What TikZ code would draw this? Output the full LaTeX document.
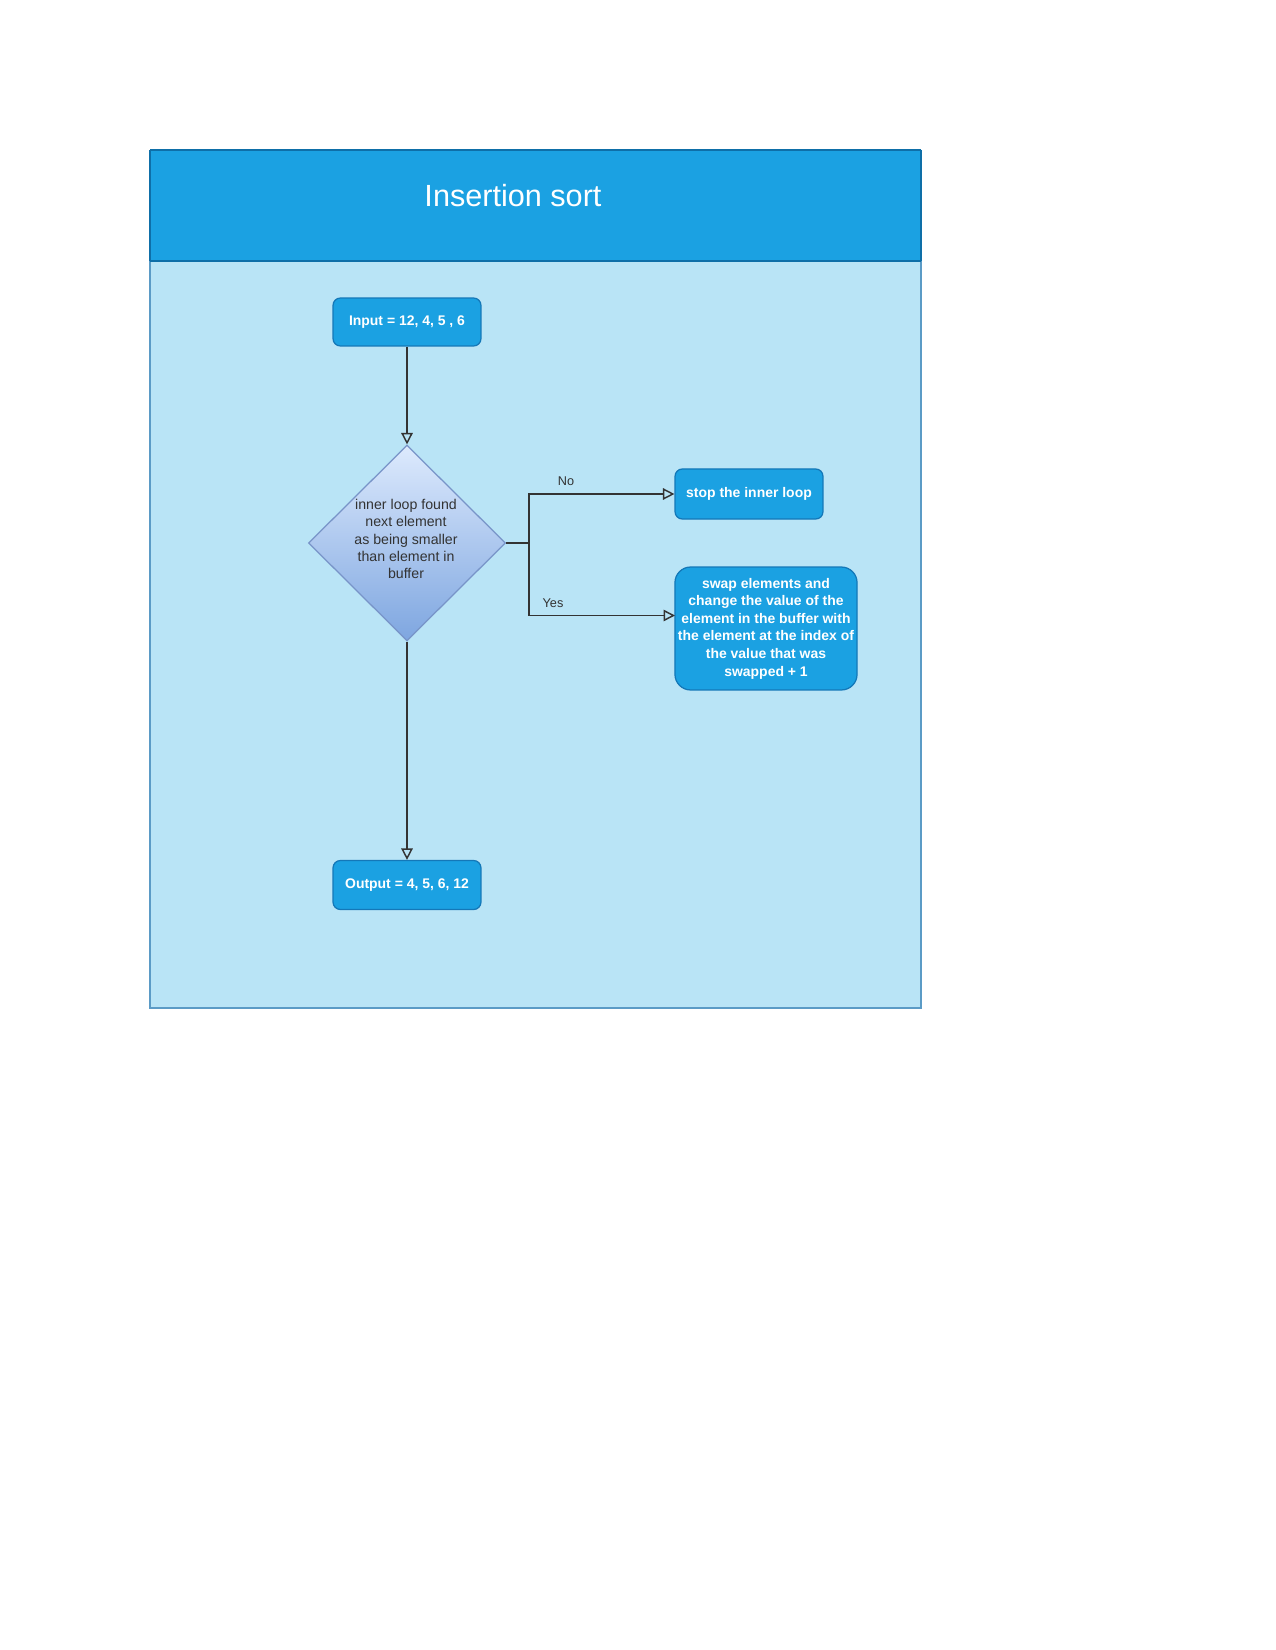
\documentclass[tikz,border=0pt]{standalone}
\usepackage{fontspec}
\setmainfont{Liberation Sans}
\usetikzlibrary{arrows.meta,shapes.geometric}
\definecolor{hdr}{HTML}{1BA1E2}
\definecolor{hdrline}{HTML}{0E6FA8}
\definecolor{bodyc}{HTML}{B9E4F6}
\definecolor{framec}{HTML}{5B9BC6}
\definecolor{boxs}{HTML}{1478B8}
\definecolor{dtop}{HTML}{DDEAFD}
\definecolor{dbot}{HTML}{7EA6E0}
\definecolor{dline}{HTML}{7894C8}
\definecolor{ink}{HTML}{333333}
\tikzset{
  proc/.style={draw=boxs, line width=0.6pt, fill=hdr, text=white, align=center,
    inner sep=0pt, font=\fontsize{6.7}{8.45}\selectfont\bfseries},
  decision/.style={diamond, draw=dline, line width=0.6pt, top color=dtop, bottom color=dbot,
    text=ink, align=center, inner sep=0pt, font=\fontsize{6.8}{8.3}\selectfont},
  conn/.style={draw=ink, line width=0.7pt, -{Triangle[open, length=5.5pt, width=5.5pt]}},
  plain/.style={draw=ink, line width=0.7pt},
  lbl/.style={text=ink, font=\fontsize{6.1}{7}\selectfont, inner sep=0pt},
  titlestyle/.style={text=white, font=\fontsize{14.7}{17}\selectfont, inner sep=0pt}
}
\begin{document}
\begin{tikzpicture}[x=0.48pt, y=-0.48pt]
\useasboundingbox (0,0) rectangle (1275,1650);
\fill[white] (0,0) rectangle (1275,1650);
% container
\fill[bodyc] (150,261) rectangle (921,1008);
\draw[framec, line width=0.7pt] (150,261) rectangle (921,1008);
\fill[hdr] (150,150) rectangle (921,261);
\draw[hdrline, line width=0.9pt] (150,150) -- (921,150);
\draw[hdrline, line width=0.7pt] (150,150) -- (150,261) (921,150) -- (921,261);
\draw[hdrline, line width=0.7pt] (150,261) -- (921,261);
\node[titlestyle] (title) at (513,196) {Insertion sort};
% nodes
\node[proc, minimum width=71pt, minimum height=23pt, rounded corners=3.5pt] (in) at (407,322) {Input = 12, 4, 5 , 6};
\node[decision, minimum width=94.6pt, minimum height=94pt] (dec) at (407,543) {};
\node[text=ink, align=center, inner sep=0pt, font=\fontsize{6.8}{8.3}\selectfont] (dectext) at (406,539)
  {inner loop found\\next element\\as being smaller\\than element in\\buffer};
\node[proc, minimum width=71pt, minimum height=24pt, rounded corners=3.5pt] (stop) at (749,494) {stop the inner loop};
\node[proc, minimum width=87.4pt, minimum height=59pt, rounded corners=7.5pt] (swap) at (766,628.5)
  {swap elements and\\change the value of the\\element in the buffer with\\the element at the index of\\the value that was\\swapped + 1};
\node[proc, minimum width=71pt, minimum height=23.5pt, rounded corners=3.5pt] (out) at (407,885) {Output = 4, 5, 6, 12};
% connectors
\coordinate (j) at (529,543);
\coordinate (swapin) at (675,615.5);
\draw[conn] (in) -- (dec);
\draw[conn] (dec) -- (out);
\draw[plain] (dec.east) -- (j);
\draw[conn] (j) |- (stop.west);
\draw[conn] (j) |- (swapin);
\node[lbl] (no) at (566,481) {No};
\node[lbl] (yes) at (553,603) {Yes};
\end{tikzpicture}
\end{document}
